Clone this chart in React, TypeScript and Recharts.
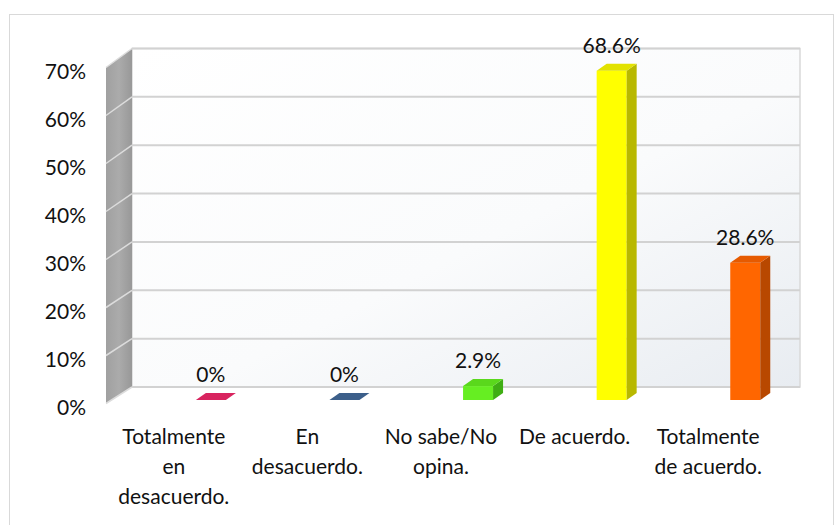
import React from 'react';
import { BarChart, Bar, XAxis, YAxis, CartesianGrid, LabelList } from 'recharts';

const categories = [
  'Totalmente en desacuerdo.',
  'En desacuerdo.',
  'No sabe/No opina.',
  'De acuerdo.',
  'Totalmente de acuerdo.',
];
const tickLines = [
  ['Totalmente', 'en', 'desacuerdo.'],
  ['En', 'desacuerdo.'],
  ['No sabe/No', 'opina.'],
  ['De acuerdo.'],
  ['Totalmente', 'de acuerdo.'],
];
const values = [0, 0, 2.9, 68.6, 28.6];
const valueLabels = ['0%', '0%', '2.9%', '68.6%', '28.6%'];
const yTicks = [0, 10, 20, 30, 40, 50, 60, 70];

const palette = [
  { front: '#c8104e', side: '#8e0a37', top: '#d8245f' },
  { front: '#2f4f75', side: '#1f3652', top: '#3c5f8a' },
  { front: '#66ee22', side: '#3fae14', top: '#5ad81c' },
  { front: '#ffff00', side: '#b8b800', top: '#e2e200' },
  { front: '#ff6600', side: '#b84800', top: '#e65a00' },
];

const data = categories.map((c, i) => ({ cat: c, value: values[i], label: valueLabels[i], lines: tickLines[i] }));

const FONT = 'Lato, "Noto Sans", sans-serif';
const TEXT = '#111111';
const FS = 21;

const BAR_SHIFT = 37;
const BAR_W = 30;
const DEPTH_X = 10;
const DEPTH_Y = 7;

const BarShape = (props: any) => {
  const { x, y, width, height, index } = props;
  const c = x + width / 2 + BAR_SHIFT;
  const l = c - BAR_W / 2;
  const r = c + BAR_W / 2;
  const top = y;
  const bottom = y + height;
  const col = palette[index];
  return (
    <g>
      {height > 0.5 && <rect x={l} y={top} width={BAR_W} height={height} fill={col.front} />}
      {height > 0.5 && (
        <polygon
          points={`${r},${top} ${r + DEPTH_X},${top - DEPTH_Y} ${r + DEPTH_X},${bottom - DEPTH_Y} ${r},${bottom}`}
          fill={col.side}
        />
      )}
      <polygon
        points={`${l},${top} ${r},${top} ${r + DEPTH_X},${top - DEPTH_Y} ${l + DEPTH_X},${top - DEPTH_Y}`}
        fill={col.top}
      />
    </g>
  );
};

const ValueLabel = (props: any) => {
  const { x, y, width, index } = props;
  const c = x + width / 2 + BAR_SHIFT;
  return (
    <text x={c} y={y - 25} dy="0.35em" textAnchor="middle" fontFamily={FONT} fontSize={FS} fill={TEXT}>
      {valueLabels[index]}
    </text>
  );
};

const WALL_DX = 25;
const backDy = (yt: number, top: number, height: number) => {
  const frac = (top + height - yt) / height;
  return -13 - 2.5 * frac;
};

const GridLine = (props: any) => {
  const { x, y, width, height, y1, index } = props;
  const dyb = backDy(y1, y, height);
  const walls =
    index === 0 ? (
      <g>
        <defs>
          <linearGradient id="backWall" x1="0" y1="0" x2="1" y2="1">
            <stop offset="0%" stopColor="#ffffff" />
            <stop offset="55%" stopColor="#fafbfc" />
            <stop offset="100%" stopColor="#e8ecf1" />
          </linearGradient>
          <linearGradient id="sideWall" x1="0" y1="0" x2="1" y2="0">
            <stop offset="0%" stopColor="#a0a0a0" />
            <stop offset="50%" stopColor="#ababab" />
            <stop offset="100%" stopColor="#989898" />
          </linearGradient>
        </defs>
        <rect
          x={x + WALL_DX}
          y={y + backDy(y, y, height)}
          width={width}
          height={height + backDy(y + height, y, height) - backDy(y, y, height)}
          fill="url(#backWall)"
          stroke="#d9d9d9"
          strokeWidth={1.5}
        />
        <polygon
          points={`${x - 1},${y + 3.5} ${x + WALL_DX},${y + backDy(y, y, height)} ${x + WALL_DX},${y + height + backDy(y + height, y, height)} ${x - 1},${y + height + 3.5}`}
          fill="url(#sideWall)"
        />
      </g>
    ) : null;
  return (
    <g>
      {walls}
      <line x1={x + WALL_DX} y1={y1 + dyb} x2={x + width + WALL_DX} y2={y1 + dyb} stroke="#d2d2d2" strokeWidth={2} />
      <line x1={x - 1} y1={y1 + 3.5} x2={x + WALL_DX} y2={y1 + dyb} stroke="#dcdcdc" strokeWidth={1.5} />
    </g>
  );
};

const YTick = (props: any) => {
  const { x, y, payload } = props;
  return (
    <text x={x - 13} y={y + 7.5} dy="0.35em" textAnchor="end" fontFamily={FONT} fontSize={FS} fill={TEXT}>
      {payload.value}%
    </text>
  );
};

const XTick = (props: any) => {
  const { x, y, index } = props;
  const lines = tickLines[index] || [];
  return (
    <g>
      {lines.map((ln, i) => (
        <text
          key={i}
          x={x}
          y={y + 37 + i * 30}
          dy="0.35em"
          textAnchor="middle"
          fontFamily={FONT}
          fontSize={FS}
          fill={TEXT}
        >
          {ln}
        </text>
      ))}
    </g>
  );
};

export default function App() {
  return (
    <div style={{ position: 'absolute', left: 0, top: 0, width: 840, height: 525, background: '#ffffff', overflow: 'hidden' }}>
      <div
        style={{
          position: 'absolute',
          left: 9,
          top: 14,
          width: 825,
          height: 530,
          border: '1px solid #d9d9d9',
          boxSizing: 'border-box',
        }}
      />
      <div style={{ position: 'absolute', left: 0, top: 0 }}>
        <BarChart width={840} height={525} data={data} margin={{ top: 64, right: 65, left: 0, bottom: 25 }}>
          <CartesianGrid vertical={false} horizontal={GridLine as any} fill="none" stroke="none" />
          <XAxis
            dataKey="cat"
            height={100}
            axisLine={false}
            tickLine={false}
            tickSize={0}
            tickMargin={0}
            interval={0}
            tick={XTick as any}
          />
          <YAxis
            width={107}
            domain={[0, 70]}
            ticks={yTicks}
            interval={0}
            axisLine={false}
            tickLine={false}
            tick={YTick as any}
          />
          <Bar dataKey="value" isAnimationActive={false} shape={BarShape as any}>
            <LabelList dataKey="value" content={ValueLabel as any} />
          </Bar>
        </BarChart>
      </div>
    </div>
  );
}
